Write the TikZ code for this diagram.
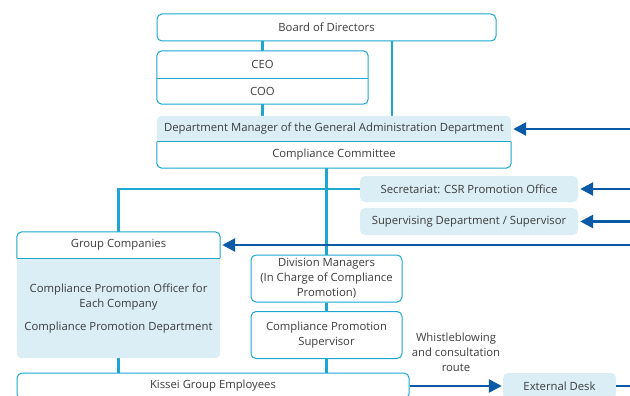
\documentclass[tikz,border=0pt]{standalone}
\usepackage{fontspec}
\setmainfont{Open Sans}
\usetikzlibrary{positioning,arrows.meta,backgrounds}
\definecolor{lineblue}{RGB}{28,166,208}
\definecolor{arrowblue}{RGB}{10,90,168}
\definecolor{paleblue}{RGB}{219,237,245}
\definecolor{txtgray}{RGB}{60,60,60}
\begin{document}
\begin{tikzpicture}[x=1pt,y=-1pt,
	every node/.style={font=\fontsize{11.3}{15}\selectfont, text=txtgray},
	cell/.style={rectangle, inner sep=0pt, minimum height=26pt, align=center},
	wbox/.style={cell, draw=lineblue, line width=1pt, fill=white, rounded corners=5pt},
	pbox/.style={cell, fill=paleblue, rounded corners=5pt},
	frm/.style={draw=lineblue, line width=1pt},
	tree/.style={draw=lineblue, line width=2.6pt},
	feed/.style={draw=arrowblue, line width=2.6pt, -{Triangle[length=13pt,width=13pt]}}]
	\useasboundingbox (0,0) rectangle (630,396);
	\coordinate (edge) at (630,0);
	\coordinate (bd) at (392,41);
	% top of the chart
	\node[wbox, minimum width=339, minimum height=27] (board) at (326.5,27.5) {Board of Directors};
	\node[cell, minimum width=211, minimum height=27] (ceo) at (262.5,64.5) {CEO};
	\node[cell, minimum width=211] (coo) at (262.5,91) {COO};
	\node[cell, minimum width=354] (dept) at (334,129) {Department Manager of the General Administration Department};
	\node[cell, minimum width=354] (comm) at (334,155) {Compliance Committee};
	\node[pbox, minimum width=218] (sec) at (469,189) {Secretariat: CSR Promotion Office};
	\node[pbox, minimum width=218, minimum height=27] (sv) at (469,221.5) {Supervising Department / Supervisor};
	% group companies
	\node[cell, minimum width=203] (grp) at (118.5,245) {Group Companies};
	\node[cell, minimum width=203, minimum height=100] (grpbody) at (118.5,308) {};
	\node[align=center, inner sep=0pt] (officer) at (118.5,297.5) {Compliance Promotion Officer for\\Each Company};
	\node[inner sep=0pt] (promdept) at (118.5,328) {Compliance Promotion Department};
	% divisions
	\node[wbox, minimum width=151, minimum height=47] (div) at (326.5,278.5) {Division Managers\\(In Charge of Compliance\\Promotion)};
	\node[wbox, minimum width=151, minimum height=47] (sup) at (326.5,335) {Compliance Promotion\\Supervisor};
	\node[wbox, minimum width=392] (kis) at (213,386) {Kissei Group Employees};
	\node[pbox, minimum width=113] (ext) at (559.5,386) {External Desk};
	\node[align=center] (route) at (456,352) {Whistleblowing\\and consultation\\route};
	\begin{pgfonlayer}{background}
		\draw[tree] (ceo.north) -- (ceo.north |- board.south);
		\draw[tree] (bd) -- (bd |- dept.north);
		\draw[tree] (coo.south) -- (coo.south |- dept.north);
		\draw[tree] (comm.south -| div) -- (div.north);
		\draw[tree] (div.south) -- (sup.north);
		\draw[tree] (sup.south) -- (sup.south |- kis.north);
		\draw[tree] (sec.west) -- (sec.west -| grp.north) -- (grp.north);
		\draw[tree] (grpbody.south) -- (grpbody.south |- kis.north);
		% framed boxes
		\draw[frm, fill=white, rounded corners=5pt] (ceo.north west) rectangle (coo.south east);
		\draw[frm] (ceo.south west) -- (ceo.south east);
		\fill[paleblue, rounded corners=5pt] (dept.north west) rectangle (comm.south east);
		\draw[frm, fill=white, rounded corners=5pt] (comm.north west) -- (comm.south west) -- (comm.south east) -- (comm.north east);
		\draw[frm] (comm.north west) -- (comm.north east);
		\fill[paleblue, rounded corners=5pt] (grp.north west) rectangle (grpbody.south east);
		\draw[frm, fill=white, rounded corners=5pt] (grp.south west) -- (grp.north west) -- (grp.north east) -- (grp.south east);
		\draw[frm] (grp.south west) -- (grp.south east);
	\end{pgfonlayer}
	% reporting arrows
	\draw[feed] (edge |- dept.east) -- ([xshift=2pt]dept.east);
	\draw[feed] (edge |- sec.east) -- ([xshift=2pt]sec.east);
	\draw[feed] (edge |- sv.east) -- ([xshift=2pt]sv.east);
	\draw[feed] (edge |- grp.east) -- ([xshift=2pt]grp.east);
	\draw[feed] (kis.east) -- ([xshift=-1pt]ext.west);
	\draw[arrowblue, line width=2.6pt] (ext.east) -- (edge |- ext.east);
\end{tikzpicture}
\end{document}
